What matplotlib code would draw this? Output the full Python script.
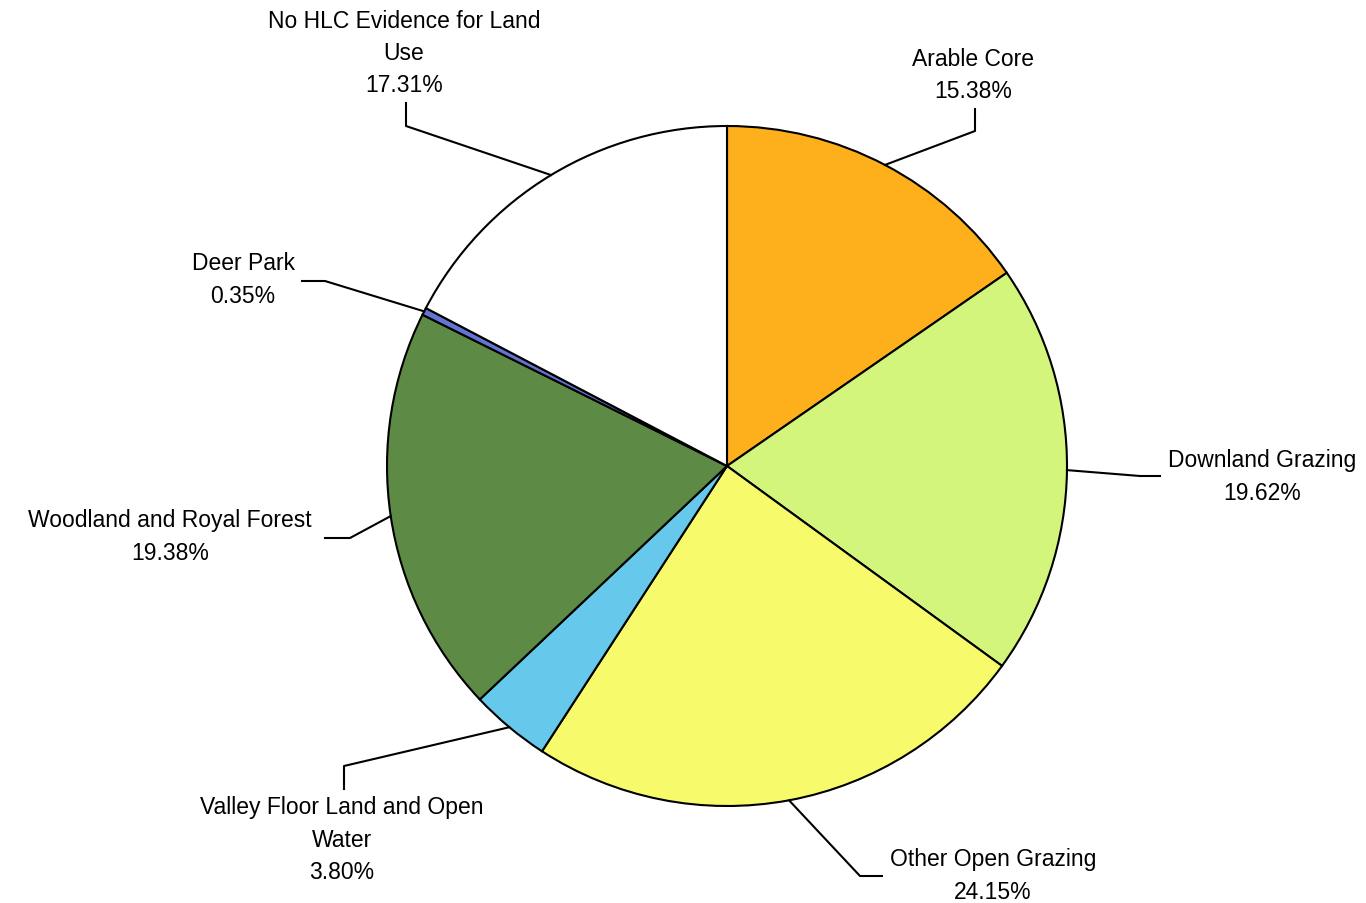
import matplotlib
matplotlib.use("Agg")
import matplotlib.pyplot as plt
import numpy as np

categories = ["Arable Core", "Downland Grazing", "Other Open Grazing",
              "Valley Floor Land and Open\nWater", "Woodland and Royal Forest",
              "Deer Park", "No HLC Evidence for Land\nUse"]
shares = [15.38, 19.62, 24.15, 3.80, 19.38, 0.35, 17.31]
colors = ["#FDB01C", "#D3F57B", "#F7FB6B", "#66C8EA", "#5D8A45", "#6374D3", "#FFFFFF"]

# layout in image pixels (y from top): first text line centre, leader elbow, leader end
text_pos = [(973, 59), (1262, 461), (993, 860), (342, 808), (170, 521), (243, 264), (404, 21)]
elbows = [(975, 132), (1140, 477), (860, 877), (344, 767), (350, 539), (325, 282), (406, 127)]
ends = [(975, 110), (1160, 477), (882, 877), (344, 790), (325, 539), (302, 282), (406, 104)]

W, H = 1366, 904
cx, cy, r = 727, 467, 340
line_h = 32.5

fig = plt.figure(figsize=(W / 100, H / 100), dpi=100)
ax = fig.add_axes([0, 0, 1, 1])

wedges, _ = ax.pie(shares, colors=colors, center=(cx, H - cy), radius=r,
                   startangle=90, counterclock=False, frame=True,
                   wedgeprops=dict(edgecolor="black", linewidth=1.5))
ax.set_xlim(0, W)
ax.set_ylim(0, H)
ax.set_aspect("equal")
ax.axis("off")

for w, name, v, tp, el, en in zip(wedges, categories, shares, text_pos, elbows, ends):
    mid = np.deg2rad((w.theta1 + w.theta2) / 2)
    px, py = cx + r * np.cos(mid), H - cy + r * np.sin(mid)
    ax.plot([px, el[0], en[0]], [py, H - el[1], H - en[1]], color="black", lw=1.5)
    lines = name.split("\n") + [f"{v:.2f}%"]
    for i, s in enumerate(lines):
        ax.text(tp[0], H - (tp[1] + i * line_h), s, ha="center", va="center",
                fontsize=16.5, family="Liberation Sans")

fig.savefig("out.png", dpi=100)
